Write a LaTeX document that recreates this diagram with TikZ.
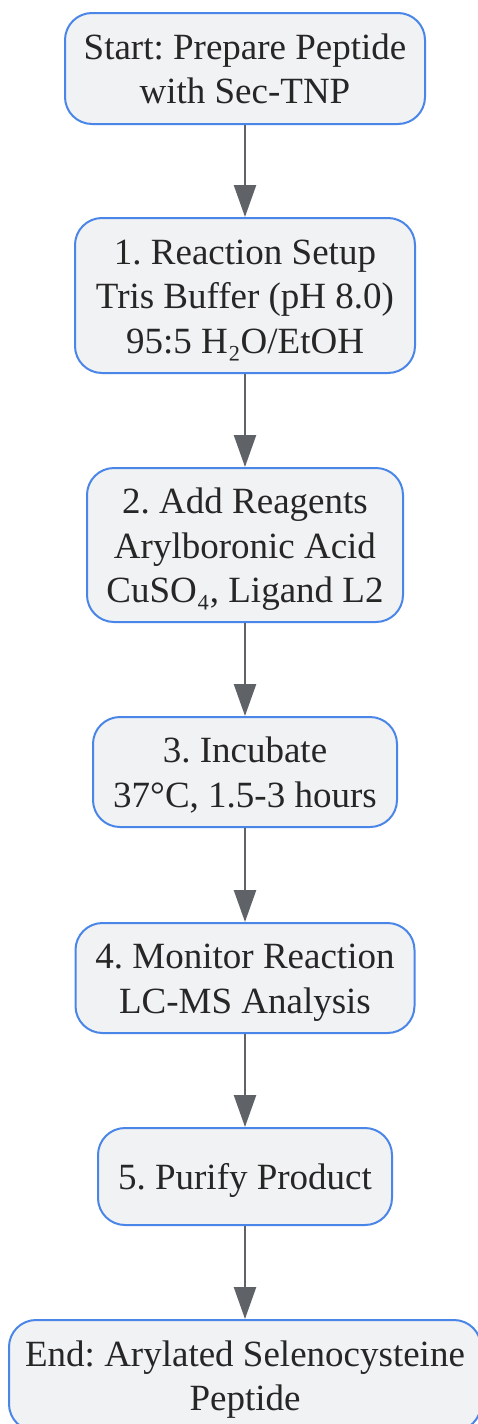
\documentclass[tikz,border=0pt]{standalone}
\usepackage{fontspec}
\setmainfont{Liberation Serif}
\usetikzlibrary{arrows.meta}
\definecolor{bordc}{HTML}{4A86E8}
\definecolor{fillc}{HTML}{F1F2F4}
\definecolor{arrc}{HTML}{5F6368}
\definecolor{txtc}{HTML}{262626}
\frenchspacing
\newcommand\boxlines[1]{\vbox{\halign{\hfil##\hfil\cr\rule{0pt}{36pt}#1\rule[-10pt]{0pt}{10pt}\cr}}}
\begin{document}
\begin{tikzpicture}[x=1pt,y=-1pt,
  box/.style={draw=bordc, line width=2pt, fill=fillc, rounded corners=27pt,
    inner sep=0pt, text=txtc,
    font=\fontsize{37}{44.5}\selectfont},
  flow/.style={draw=arrc, line width=2.5pt, -{Triangle[length=32pt,width=22pt]}}]
\clip (0,0) rectangle (478,1424);
\fill[white] (0,0) rectangle (478,1424);
\node[box, minimum width=360pt, minimum height=111pt] (s) at (245,68.5)
  {\boxlines{Start: Prepare Peptide\cr with Sec-TNP}};
\node[box, minimum width=340pt, minimum height=155pt] (n1) at (245,295.5)
  {\boxlines{1. Reaction Setup\cr Tris Buffer (pH 8.0)\cr 95:5 H₂O/EtOH}};
\node[box, minimum width=316pt, minimum height=154pt] (n2) at (245,545)
  {\boxlines{2. Add Reagents\cr Arylboronic Acid\cr CuSO₄, Ligand L2}};
\node[box, minimum width=304pt, minimum height=110pt] (n3) at (245,772)
  {\boxlines{3. Incubate\cr 37°C, 1.5-3 hours}};
\node[box, minimum width=339pt, minimum height=110pt] (n4) at (245,978)
  {\boxlines{4. Monitor Reaction\cr LC-MS Analysis}};
\node[box, minimum width=294pt, minimum height=97pt] (n5) at (245,1176.5)
  {\boxlines{5. Purify Product}};
\node[box, minimum width=472pt, minimum height=111pt] (e) at (245,1375.5)
  {\boxlines{End: Arylated Selenocysteine\cr Peptide}};
\draw[flow] (s) -- (n1);
\draw[flow] (n1) -- (n2);
\draw[flow] (n2) -- (n3);
\draw[flow] (n3) -- (n4);
\draw[flow] (n4) -- (n5);
\draw[flow] (n5) -- (e);
\end{tikzpicture}
\end{document}
